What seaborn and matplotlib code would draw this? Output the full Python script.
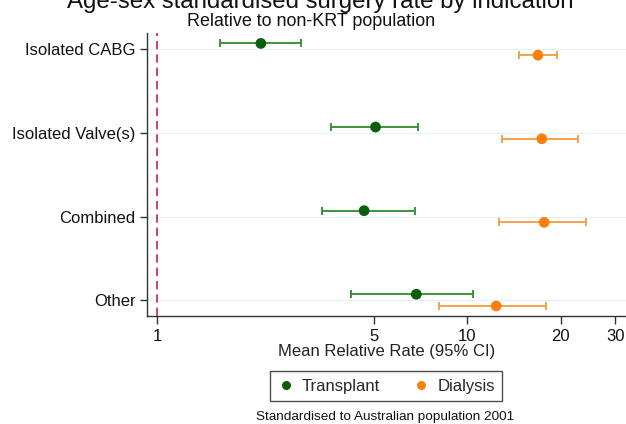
import numpy as np
import pandas as pd
import matplotlib
matplotlib.use("Agg")
import matplotlib.pyplot as plt
from matplotlib.lines import Line2D
import seaborn as sns

# values (relative rate vs non-KRT population)
indications = ["Isolated CABG", "Isolated Valve(s)", "Combined", "Other"]
groups = ["Transplant", "Dialysis"]

transplant_rate = [2.16, 5.06, 4.65, 6.85]
transplant_lo = [1.60, 3.63, 3.39, 4.22]
transplant_hi = [2.91, 6.93, 6.78, 10.4]

dialysis_rate = [16.9, 17.4, 17.7, 12.4]
dialysis_lo = [14.7, 12.9, 12.65, 8.12]
dialysis_hi = [19.5, 22.7, 24.2, 17.9]

xticks = [1, 5, 10, 20, 30]

point_colors = {"Transplant": "#0b5e0b", "Dialysis": "#ff7f0e"}
line_colors = {"Transplant": "#2e8b2e", "Dialysis": "#f39a3c"}
offsets = {"Transplant": -0.07, "Dialysis": 0.07}

rows = []
for g, rate, lo, hi in [("Transplant", transplant_rate, transplant_lo, transplant_hi),
                        ("Dialysis", dialysis_rate, dialysis_lo, dialysis_hi)]:
    for i, ind in enumerate(indications):
        rows.append({"indication": ind, "group": g, "rate": rate[i],
                     "lo": lo[i], "hi": hi[i], "ypos": i + offsets[g]})
df = pd.DataFrame(rows)

sns.set_theme(style="white")
plt.rcParams["font.family"] = ["Liberation Sans", "DejaVu Sans"]

fig = plt.figure(figsize=(6.26, 4.24), dpi=100)
ax = fig.add_axes([0.2343, 0.2547, 0.7657, 0.6675])

# faint horizontal guides at each category
for i in range(len(indications)):
    ax.axhline(i, color="#e6f1f2", lw=0.8, zorder=0)

ax.axvline(1, color="#d01c52", lw=1.2, ls=(0, (5, 3)), zorder=1)

for g in groups:
    sub = df[df["group"] == g]
    ax.errorbar(sub["rate"], sub["ypos"],
                xerr=[sub["rate"] - sub["lo"], sub["hi"] - sub["rate"]],
                fmt="none", ecolor=line_colors[g], elinewidth=1.3,
                capsize=3.2, capthick=1.3, zorder=2)

sns.scatterplot(data=df, x="rate", y="ypos", hue="group", palette=point_colors,
                s=60, edgecolor="none", legend=False, ax=ax, zorder=3)

ax.set_xscale("log")
ax.set_xlim(0.925, 32.5)
ax.set_ylim(3.19, -0.195)
ax.set_xticks(xticks)
ax.set_xticklabels([str(t) for t in xticks])
ax.minorticks_off()
ax.set_yticks(range(len(indications)))
ax.set_yticklabels(indications)

ax.set_xlabel("Mean Relative Rate (95% CI)", fontsize=12, labelpad=0, color="#222222")
ax.set_ylabel("")
ax.tick_params(axis="x", length=6, width=1, pad=3, labelsize=12, colors="#333333",
               labelcolor="#111111", bottom=True)
ax.tick_params(axis="y", length=5, width=1, pad=3, labelsize=12, colors="#333333",
               labelcolor="#111111", left=True)

for side in ["top", "right"]:
    ax.spines[side].set_visible(False)
for side in ["left", "bottom"]:
    ax.spines[side].set_color("#333333")
    ax.spines[side].set_linewidth(1.0)

# main title sits mostly above the top edge, as in the reference
fig.text(320 / 626, 1 - 8 / 424, "Age-sex standardised surgery rate by indication",
         ha="center", va="baseline", fontsize=17.3, color="#111111")
fig.text(311 / 626, 1 - 26 / 424, "Relative to non-KRT population",
         ha="center", va="baseline", fontsize=12.9, color="#111111")

handles = [Line2D([], [], ls="none", marker="o", markersize=6.5,
                  markerfacecolor=point_colors[g], markeredgecolor="none", label=g)
           for g in groups]
leg = fig.legend(handles=handles, loc="center", bbox_to_anchor=(386 / 626, 1 - 386 / 424),
                 ncol=2, frameon=True, fontsize=12, handletextpad=0.45,
                 columnspacing=2.0, handlelength=1.0, borderpad=0.45, fancybox=False)
leg.get_frame().set_edgecolor("#222222")
leg.get_frame().set_linewidth(1.0)

fig.text(385 / 626, 1 - 417 / 424, "Standardised to Australian population 2001",
         ha="center", va="center", fontsize=9.7, color="#111111")

fig.savefig("out.png", dpi=100)
